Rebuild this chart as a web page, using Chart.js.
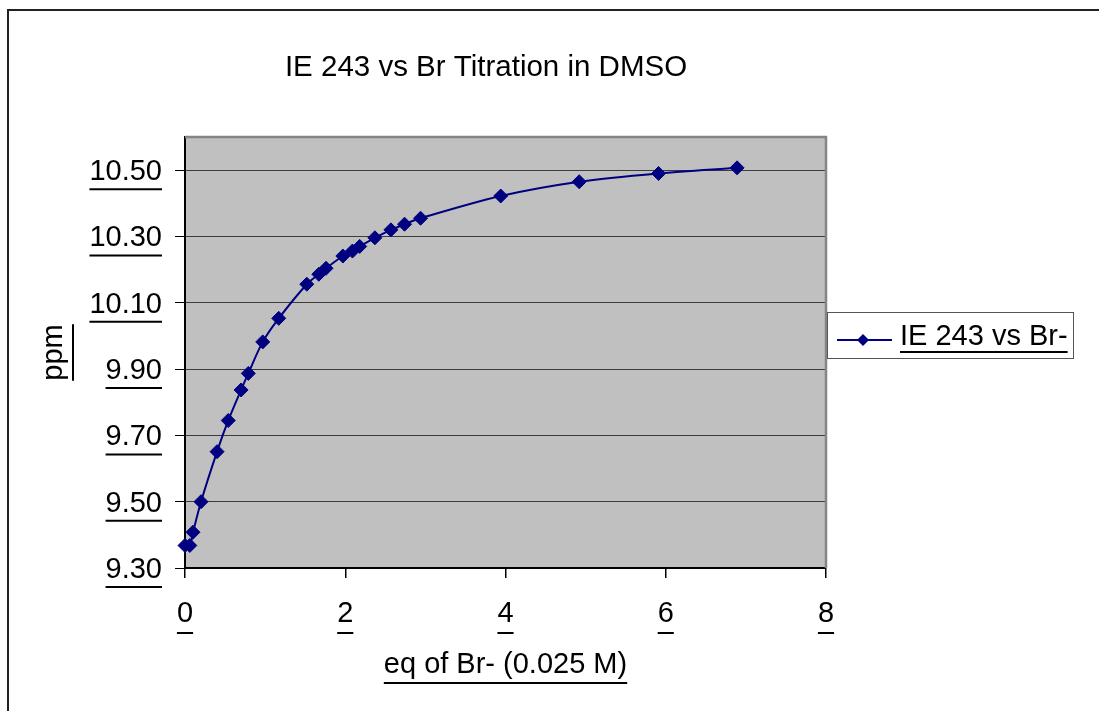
<!DOCTYPE html>
<html>
<head>
<meta charset="utf-8">
<title>IE 243 vs Br Titration in DMSO</title>
<script src="https://cdn.jsdelivr.net/npm/chart.js@4.4.1/dist/chart.umd.min.js"></script>
<style>
  body { margin: 0; background: #fff; }
  canvas { display: block; }
</style>
</head>
<body>
<canvas id="titration" width="1099" height="711"></canvas>
<script>
// equivalents of Br- added and the observed shift (ppm)
const eqBr = [0, 0.06, 0.10, 0.20, 0.40, 0.54, 0.70, 0.79, 0.97, 1.17, 1.52, 1.67, 1.76, 1.97, 2.09, 2.18, 2.37, 2.57, 2.74, 2.94, 3.94, 4.92, 5.91, 6.89];
const shift = [9.368, 9.368, 9.408, 9.500, 9.651, 9.745, 9.837, 9.887, 9.982, 10.053, 10.156, 10.186, 10.204, 10.241, 10.256, 10.270, 10.296, 10.320, 10.337, 10.355, 10.422, 10.465, 10.490, 10.507];

const xTicks = [0, 2, 4, 6, 8];
const yTicks = [9.3, 9.5, 9.7, 9.9, 10.1, 10.3, 10.5];

const chartTitle = 'IE 243 vs Br Titration in DMSO';
const seriesLabel = 'IE 243 vs Br-';
const xTitle = 'eq of Br- (0.025 M)';
const yTitle = 'ppm';

const FAMILY = "'Liberation Sans', Arial, sans-serif";
const FONT = { family: FAMILY, size: 29, lineHeight: 1.2 };
const CSS_FONT = '29px ' + FAMILY;
const NAVY = '#000080';

function hline(ctx, x1, x2, y, w) {
  ctx.beginPath();
  ctx.lineWidth = w || 2;
  ctx.moveTo(x1, y);
  ctx.lineTo(x2, y);
  ctx.stroke();
}

// frame, grey plot area, title, underlines and the legend box
const excelLook = {
  id: 'excelLook',
  beforeDraw(chart) {
    const { ctx, chartArea: a } = chart;
    ctx.save();
    ctx.strokeStyle = '#222';
    ctx.lineWidth = 2;
    ctx.strokeRect(8, 10, 1300, 900);
    ctx.fillStyle = '#c0c0c0';
    ctx.fillRect(a.left, a.top, a.right - a.left, a.bottom - a.top);
    ctx.fillStyle = '#000';
    ctx.font = '29.5px ' + FAMILY;
    ctx.textAlign = 'center';
    ctx.textBaseline = 'middle';
    ctx.fillText(chartTitle, 486, 68);
    ctx.restore();
  },
  beforeDatasetsDraw(chart) {
    const { ctx, chartArea: a } = chart;
    ctx.save();
    ctx.strokeStyle = '#858585';
    ctx.lineWidth = 2.5;
    ctx.beginPath();
    ctx.moveTo(a.left, a.top);
    ctx.lineTo(a.right, a.top);
    ctx.lineTo(a.right, a.bottom);
    ctx.stroke();
    ctx.restore();
  },
  afterDraw(chart) {
    const { ctx, chartArea: a, scales } = chart;
    ctx.save();
    ctx.font = CSS_FONT;
    ctx.strokeStyle = '#000';

    // underline the tick labels
    scales.y.ticks.forEach(t => {
      const y = scales.y.getPixelForValue(t.value);
      const w = ctx.measureText(t.label).width;
      const right = a.left - 23;
      hline(ctx, right - w, right, y + 19);
    });
    scales.x.ticks.forEach(t => {
      const x = scales.x.getPixelForValue(t.value);
      const w = ctx.measureText(t.label).width;
      hline(ctx, x - w / 2, x + w / 2, scales.x.top + 65);
    });

    // underline the axis titles
    const xw = ctx.measureText(xTitle).width;
    const xc = (a.left + a.right) / 2;
    hline(ctx, xc - xw / 2, xc + xw / 2, 683);
    const yw = ctx.measureText(yTitle).width;
    const yc = (a.top + a.bottom) / 2;
    ctx.beginPath();
    ctx.lineWidth = 2;
    ctx.moveTo(73, yc - yw / 2);
    ctx.lineTo(73, yc + yw / 2);
    ctx.stroke();

    // legend
    const ds = chart.data.datasets[0];
    ctx.fillStyle = '#fff';
    ctx.fillRect(827, 312, 246, 46);
    ctx.strokeStyle = '#555';
    ctx.lineWidth = 1;
    ctx.strokeRect(827.5, 312.5, 246, 46);
    ctx.strokeStyle = ds.borderColor;
    hline(ctx, 837, 892, 340, 2);
    ctx.fillStyle = ds.backgroundColor;
    ctx.beginPath();
    ctx.moveTo(863, 334);
    ctx.lineTo(869, 340);
    ctx.lineTo(863, 346);
    ctx.lineTo(857, 340);
    ctx.closePath();
    ctx.fill();
    ctx.fillStyle = '#000';
    ctx.textAlign = 'left';
    ctx.textBaseline = 'middle';
    ctx.fillText(ds.label, 900, 337);
    const lw = ctx.measureText(ds.label).width;
    ctx.strokeStyle = '#000';
    hline(ctx, 900, 900 + lw, 352);
    ctx.restore();
  }
};

const points = eqBr.map((x, i) => ({ x: x, y: shift[i] }));

new Chart(document.getElementById('titration'), {
  type: 'line',
  data: {
    datasets: [{
      label: seriesLabel,
      data: points,
      borderColor: NAVY,
      backgroundColor: NAVY,
      borderWidth: 2,
      tension: 0.3,
      pointStyle: 'rectRot',
      pointRadius: 7,
      pointBorderWidth: 1,
      pointBorderColor: NAVY,
      pointBackgroundColor: NAVY,
      clip: false
    }]
  },
  options: {
    responsive: false,
    animation: false,
    layout: { padding: { left: 0, top: 137, right: 273, bottom: 0 } },
    plugins: {
      legend: { display: false },
      title: { display: false },
      tooltip: { enabled: false }
    },
    scales: {
      x: {
        type: 'linear',
        min: 0,
        max: 8,
        afterBuildTicks: s => { s.ticks = xTicks.map(v => ({ value: v })); },
        afterFit: s => { s.height = 143; },
        ticks: { font: FONT, color: '#000', padding: 19, maxRotation: 0 },
        grid: { drawOnChartArea: false, drawTicks: true, tickLength: 10, tickColor: '#000', lineWidth: 1.5 },
        border: { color: '#000', width: 2 },
        title: { display: true, text: xTitle, font: FONT, color: '#000', padding: { top: 0, bottom: 29 } }
      },
      y: {
        type: 'linear',
        min: 9.3,
        max: 10.6,
        afterBuildTicks: s => { s.ticks = yTicks.map(v => ({ value: v })); },
        afterFit: s => { s.width = 185; },
        ticks: { font: FONT, color: '#000', padding: 13, labelOffset: 2, callback: v => v.toFixed(2) },
        grid: { color: '#3c3c3c', lineWidth: 1, drawTicks: true, tickLength: 10, tickColor: '#000' },
        border: { color: '#000', width: 2 },
        title: { display: true, text: yTitle, font: FONT, color: '#000', padding: { top: 37, bottom: 0 } }
      }
    }
  },
  plugins: [excelLook]
});
</script>
</body>
</html>
